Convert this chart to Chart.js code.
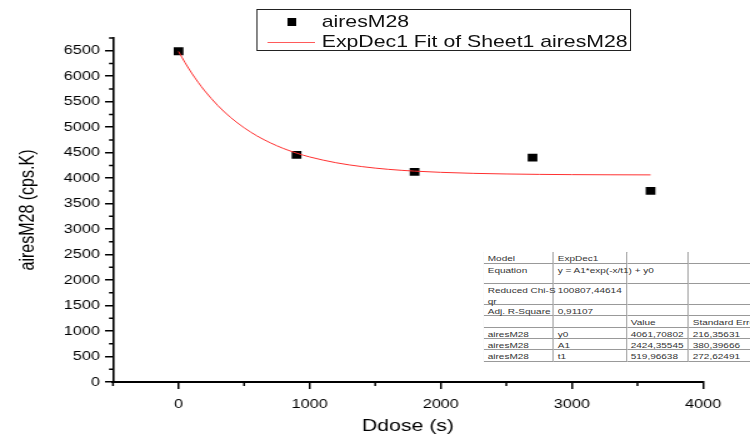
<!DOCTYPE html>
<html>
<head>
<meta charset="utf-8">
<script src="https://cdn.jsdelivr.net/npm/chart.js@4/dist/chart.umd.min.js"></script>
<style>
  html, body { margin:0; padding:0; background:#fff; overflow:hidden; width:750px; height:439px; }
  #wrap { position:absolute; left:0; top:0; width:600px; height:439px; transform:scaleX(1.25); transform-origin:0 0; overflow:hidden; }
  #c { position:absolute; left:0; top:0; }
  #legend { position:absolute; left:205.4px; top:9px; width:299.4px; height:41.5px; box-sizing:border-box; border:1px solid #222; background:#fff;
            font-family:'Liberation Sans', Arial, sans-serif; font-size:17px; color:#111; }
  .lg-text { position:absolute; left:51px; line-height:20px; white-space:nowrap; }
  #tbl { position:absolute; left:387.2px; top:252px; font-family:'Liberation Sans', Arial, sans-serif; font-size:8px; color:#333; }
  .cell { position:absolute; box-sizing:border-box; border-right:1px solid #999; border-bottom:1px solid #999; background:#fff;
          padding:0 2px; line-height:11px; white-space:nowrap; overflow:visible; }
  .txt { position:relative; z-index:2; }
</style>
</head>
<body>
<div id="wrap">
  <canvas id="c" width="600" height="439"></canvas>
  <div id="legend"></div>
  <div id="tbl"></div>
</div>
<script>
// ---- data ----
const doseX   = [0, 900, 1800, 2700, 3600];
const airesY  = [6490, 4455, 4122, 4402, 3752];
const fitX    = [0, 50, 100, 150, 200, 300, 400, 500, 600, 700, 800, 900, 1000, 1200, 1400, 1600, 1800, 2000, 2250, 2500, 2750, 3000, 3300, 3600];
const fitY    = [6486, 6264, 6062, 5879, 5712, 5423, 5185, 4989, 4826, 4693, 4582, 4491, 4416, 4303, 4226, 4173, 4138, 4114, 4094, 4082, 4074, 4069, 4066, 4064];
const xTicks  = [0, 1000, 2000, 3000, 4000];
const xMinor  = [-500, 500, 1500, 2500, 3500];
const yTicks  = [0, 500, 1000, 1500, 2000, 2500, 3000, 3500, 4000, 4500, 5000, 5500, 6000, 6500];
const yMinor  = [250, 750, 1250, 1750, 2250, 2750, 3250, 3750, 4250, 4750, 5250, 5750, 6250, 6750];
const seriesNames = ['airesM28', 'ExpDec1 Fit of Sheet1 airesM28'];
const xTitle = 'Ddose (s)';
const yTitle = 'airesM28 (cps.K)';
// fit report table
const tableRows = [
  ['Model', 'ExpDec1', '', ''],
  ['Equation', 'y = A1*exp(-x/t1) + y0', '', ''],
  ['Reduced Chi-S<br>qr', '100807,44614', '', ''],
  ['Adj. R-Square', '0,91107', '', ''],
  ['', '', 'Value', 'Standard Error'],
  ['airesM28', 'y0', '4061,70802', '216,35631'],
  ['airesM28', 'A1', '2424,35545', '380,39666'],
  ['airesM28', 't1', '519,96638', '272,62491']
];

// ---- legend (HTML) ----
const lg = document.getElementById('legend');
lg.innerHTML =
  '<div style="position:absolute;width:7.2px;height:8px;background:#000"></div>' +
  '<div class="lg-text">' + seriesNames[0] + '</div>' +
  '<div style="position:absolute;width:38.4px;height:1px;background:#ff5a5a"></div>' +
  '<div class="lg-text">' + seriesNames[1] + '</div>';
lg.querySelectorAll('.lg-text').forEach(e => e.style.left = (257.4 - 205.4 - 1) + 'px');
lg.children[0].style.left = (233.4 - 3.6 - 205.4 - 1) + 'px';
lg.children[0].style.top = (22 - 4 - 9 - 1) + 'px';
lg.children[1].style.top = (22 - 10 - 9 - 1) + 'px';
lg.children[2].style.left = (213.6 - 205.4 - 1) + 'px';
lg.children[2].style.top = (42 - 9 - 1) + 'px';
lg.children[3].style.top = (42 - 10 - 9 - 1) + 'px';

// ---- table (HTML) ----
const rowEdges = [252, 264, 284, 305, 316, 328, 339, 350, 362];
const colEdges = [387.2, 443.2, 501.6, 551.2, 620];
const tbl = document.getElementById('tbl');
let html = '<div style="position:absolute;left:0;top:0;width:' + (colEdges[4]-colEdges[0]) + 'px;height:' + (rowEdges[8]-rowEdges[0]) + 'px;border-left:1px solid #999;border-top:1px solid #999;box-sizing:border-box;background:#fff"></div>';
tableRows.forEach((row, r) => {
  row.forEach((txt, c) => {
    html += '<div class="cell" style="left:' + (colEdges[c]-colEdges[0]) + 'px;top:' + (rowEdges[r]-rowEdges[0]) + 'px;width:' +
            (colEdges[c+1]-colEdges[c]) + 'px;height:' + (rowEdges[r+1]-rowEdges[r]) + 'px"></div>';
  });
});
tableRows.forEach((row, r) => {
  row.forEach((txt, c) => {
    if (!txt) return;
    html += '<div class="cell txt" style="border:none;background:transparent;left:' + (colEdges[c]-colEdges[0]+1) + 'px;top:' + (rowEdges[r]-rowEdges[0]+1) + 'px;position:absolute">' + txt + '</div>';
  });
});
tbl.innerHTML = html;

// ---- chart ----
const FONT = "'Liberation Sans', Arial, sans-serif";
const minorTicks = {
  id: 'minorTicks',
  afterDraw(chart) {
    const ctx = chart.ctx, xs = chart.scales.x, ys = chart.scales.y;
    ctx.save();
    ctx.strokeStyle = '#000';
    ctx.lineWidth = 1.5;
    ctx.beginPath();
    xMinor.forEach(v => { const px = xs.getPixelForValue(v); ctx.moveTo(px, xs.top); ctx.lineTo(px, xs.top + 4); });
    yMinor.forEach(v => { const py = ys.getPixelForValue(v); ctx.moveTo(ys.right, py); ctx.lineTo(ys.right - 3.2, py); });
    ctx.stroke();
    ctx.restore();
  }
};

new Chart(document.getElementById('c'), {
  type: 'scatter',
  data: {
    datasets: [
      {
        type: 'line',
        label: seriesNames[1],
        data: fitX.map((x, i) => ({ x: x, y: fitY[i] })),
        borderColor: '#ff3030',
        borderWidth: 1,
        pointRadius: 0,
        cubicInterpolationMode: 'monotone',
        fill: false,
        order: 1
      },
      {
        label: seriesNames[0],
        data: doseX.map((x, i) => ({ x: x, y: airesY[i] })),
        pointStyle: 'rect',
        pointRadius: 5.5,
        backgroundColor: '#000',
        borderColor: '#000',
        borderWidth: 0,
        order: 2
      }
    ]
  },
  options: {
    responsive: false,
    animation: false,
    layout: { padding: { left: 0, right: 37.6, top: 38, bottom: 0 } },
    plugins: { legend: { display: false }, tooltip: { enabled: false } },
    scales: {
      x: {
        type: 'linear',
        min: -500, max: 4000,
        afterBuildTicks: s => { s.ticks = xTicks.map(v => ({ value: v })); },
        afterFit: s => { s.height = 57; },
        ticks: { callback: v => String(v), color: '#000', font: { family: FONT, size: 13 }, padding: 8, maxRotation: 0 },
        grid: { drawOnChartArea: false, drawTicks: true, tickLength: 7, color: '#000', lineWidth: 1.5 },
        border: { display: true, color: '#000', width: 2 },
        title: { display: true, text: xTitle, color: '#000', font: { family: FONT, size: 17 }, padding: { top: 0, bottom: 2 } }
      },
      y: {
        type: 'linear',
        min: 0, max: 6750,
        afterBuildTicks: s => { s.ticks = yTicks.map(v => ({ value: v })); },
        afterFit: s => { s.width = 90.4; },
        ticks: { callback: v => String(v), color: '#000', font: { family: FONT, size: 13 }, padding: 4 },
        grid: { drawOnChartArea: false, drawTicks: true, tickLength: 6.4, color: '#000', lineWidth: 1.5 },
        border: { display: true, color: '#000', width: 1.6 },
        title: { display: true, text: yTitle, color: '#000', font: { family: FONT, size: 16 }, padding: { top: 13, bottom: 0 } }
      }
    }
  },
  plugins: [minorTicks]
});
</script>
</body>
</html>
